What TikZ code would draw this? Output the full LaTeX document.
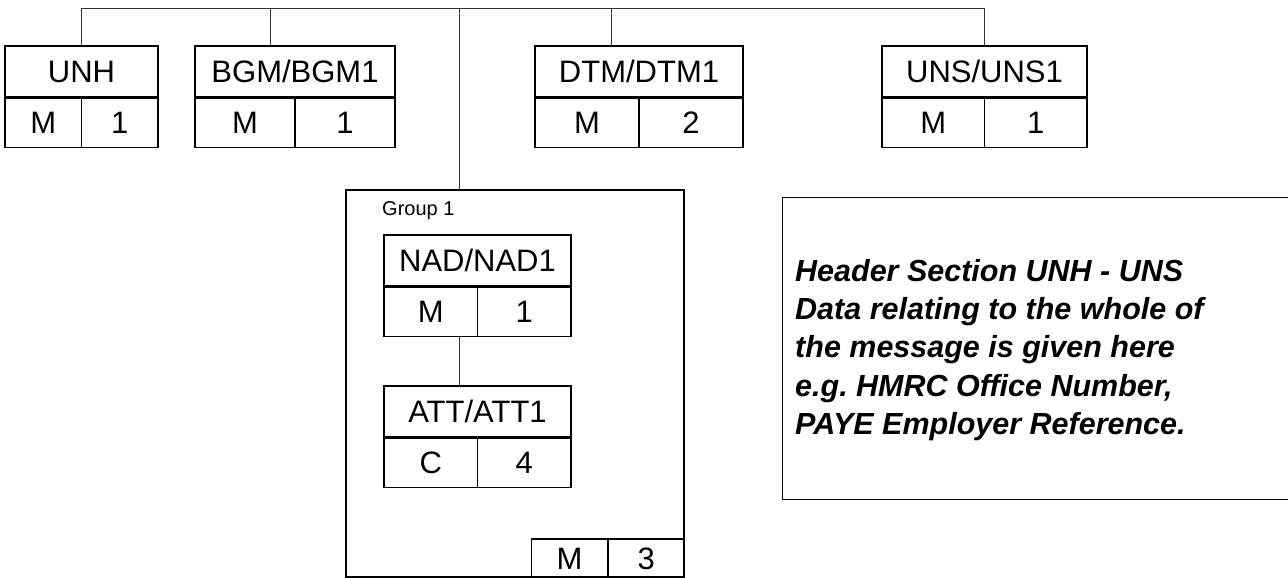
\documentclass[tikz,border=0pt]{standalone}
\usepackage{fontspec}
\setmainfont{Liberation Sans}
\usepackage{tikz}
\usetikzlibrary{positioning, calc}
\frenchspacing

\tikzset{
  segtitle/.style={draw, line width=1.3pt, inner sep=0pt, minimum height=51pt,
                   text height=22pt, text depth=0pt, font=\fontsize{31}{36}\selectfont},
  segcell/.style={segtitle, minimum height=49pt},
  link/.style={draw=black!80, line width=0.8pt},
}

% one segment: title cell on top, status and repeat cells below
\newcommand{\segment}[7]{%
  \node[segtitle, minimum width=#4pt] (#1) at (#2,#3) {#5};
  \node[segcell, minimum width=#4pt/2, anchor=north west] (#1s) at (#1.south west) {#6};
  \node[segcell, minimum width=#4pt/2, anchor=north east] (#1r) at (#1.south east) {#7};
}

\begin{document}
\begin{tikzpicture}[x=1pt, y=-1pt]
  \useasboundingbox (0,0) rectangle (1288,578);

  % header segments
  \segment{unh}{81.5}{71.5}{153}{UNH}{M}{1}
  \segment{bgm}{295}{71.5}{200}{BGM/BGM1}{M}{1}
  \segment{dtm}{639}{71.5}{208}{DTM/DTM1}{M}{2}
  \segment{uns}{984.5}{71.5}{205}{UNS/UNS1}{M}{1}

  % group 1
  \node[draw, line width=1.3pt, minimum width=338pt, minimum height=387pt,
        inner sep=0pt] (grp) at (515,383.5) {};
  \node[anchor=base west, inner sep=0pt, font=\fontsize{20}{24}\selectfont]
        (grplabel) at (382,215) {Group 1};
  \segment{nad}{477.5}{260.5}{187}{NAD/NAD1}{M}{1}
  \segment{att}{477.5}{411.5}{187}{ATT/ATT1}{C}{4}
  \node[segcell, minimum width=75.5pt, minimum height=38pt, anchor=south east]
        (grpr) at (grp.south east) {3};
  \node[segcell, minimum width=75.5pt, minimum height=38pt, anchor=south east]
        (grps) at (grpr.south west) {M};

  % note
  \node[draw, line width=1.3pt, anchor=north west, minimum width=530pt,
        minimum height=302pt, inner sep=0pt] (note) at (782,197) {};
  \node[anchor=north west, inner sep=0pt, align=left,
        font=\fontsize{30.5}{38.3}\selectfont\bfseries\itshape]
        (notetext) at (795,259) {Header Section UNH - UNS\\
        Data relating to the whole of\\
        the message is given here\\
        e.g. HMRC Office Number,\\
        PAYE Employer Reference.};

  % connectors
  \coordinate (bus) at (0,8);
  \coordinate (gx) at (459,0);
  \draw[link] (unh.north) -- (unh.north |- bus) -- (uns.north |- bus) -- (uns.north);
  \draw[link] ([xshift=-25pt]bgm.north) -- ([xshift=-25pt]bgm.north |- bus);
  \draw[link] ([xshift=-28pt]dtm.north) -- ([xshift=-28pt]dtm.north |- bus);
  \draw[link] (grp.north -| gx) -- (gx |- bus);
  \draw[link] (nads.south -| gx) -- (att.north -| gx);
\end{tikzpicture}
\end{document}
